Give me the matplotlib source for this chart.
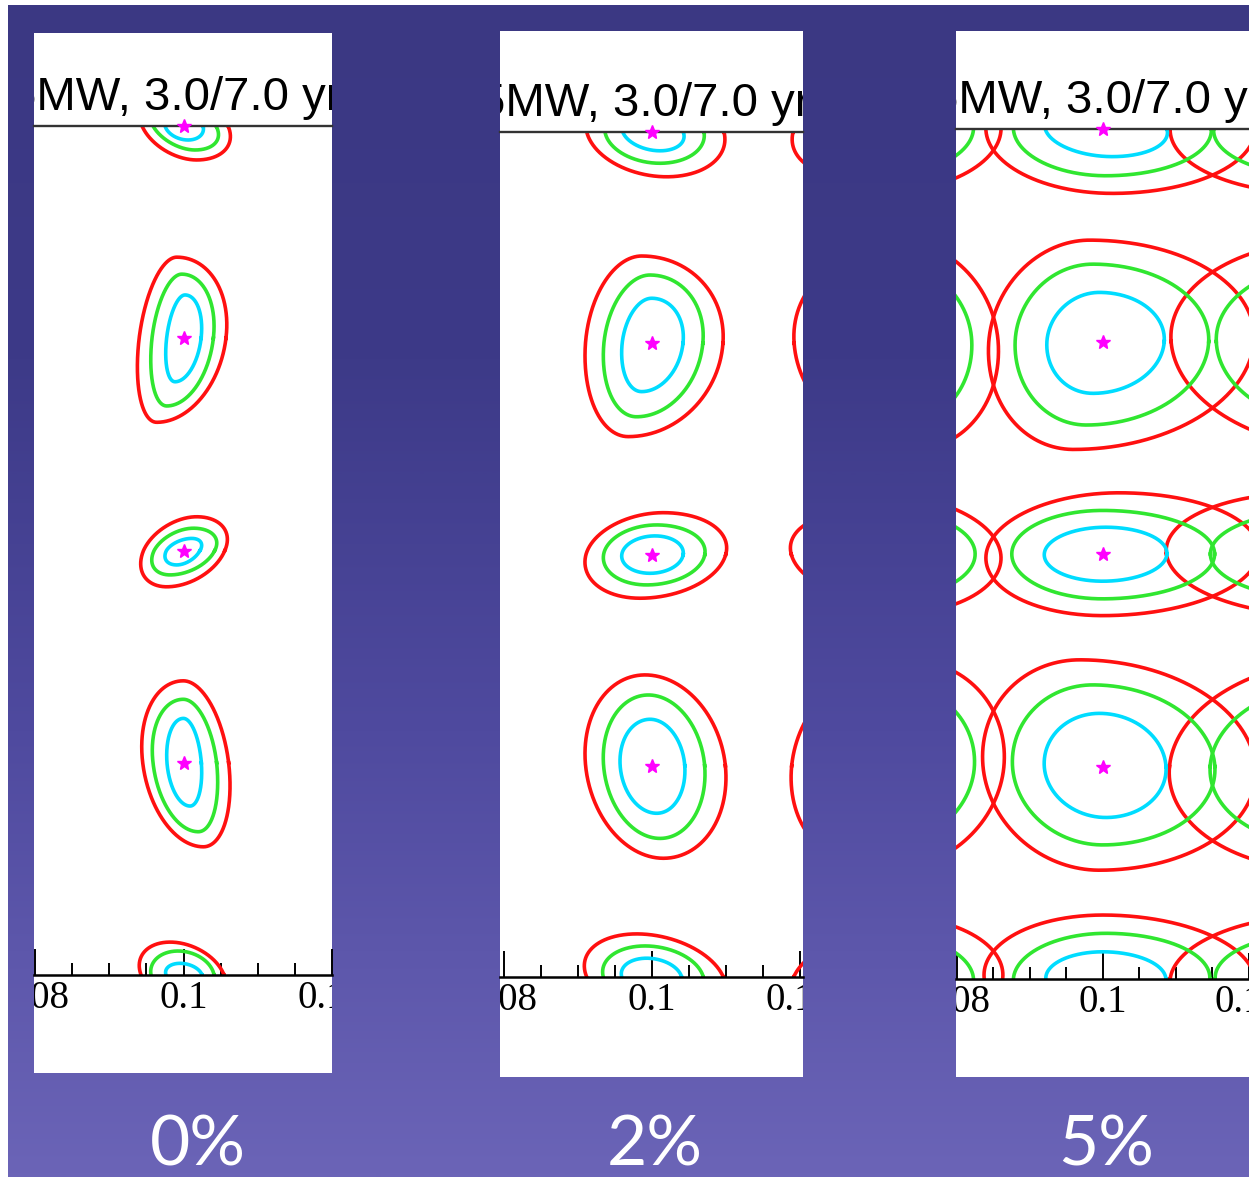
import numpy as np
import matplotlib
matplotlib.use('Agg')
import matplotlib.pyplot as plt
from matplotlib.colors import LinearSegmentedColormap
from matplotlib.transforms import offset_copy

# ---------------- data ----------------
PANEL_LABELS = ['0%', '2%', '5%']
TITLE = '5MW, 3.0/7.0 yr'
STAR_X = 0.1
CONTOUR_ROWS = [0, 1, 2, 3, 4]
STAR_ROWS = [0, 1, 2, 3]
MAJOR_TICKS = [0.08, 0.10, 0.12]
MAJOR_LABELS = ['0.08', '0.1', '0.12']
MINOR_TICKS = [0.085, 0.09, 0.095, 0.105, 0.11, 0.115]
# mirrored neighbouring solutions (x offsets from the star)
NEIGHBOR_OFFSETS = [[-0.030, 0.030], [-0.031, 0.0288], [-0.030, 0.030]]

# contour shape per row: [dx, shear, half-width left, half-width right,
#                         half-height top, half-height bottom]
# x values in units of 1e-3, y values in row units
P1_RED = [[-0.24, 2.02, 5.35, 6.24, 0.170, 0.160],
          [-2.26, -1.35, 3.72, 7.98, 0.382, 0.396],
          [-0.24, -2.02, 5.15, 5.81, 0.159, 0.171],
          [1.32, 1.35, 6.82, 4.76, 0.386, 0.396],
          [-0.13, 1.68, 5.59, 5.59, 0.155, 0.170]]
P1_GREEN = [[-0.24, 1.79, 3.87, 4.62, 0.118, 0.113],
            [-1.25, -1.01, 3.00, 5.27, 0.302, 0.319],
            [-0.24, -1.58, 3.72, 4.45, 0.105, 0.115],
            [0.98, 1.01, 5.09, 3.48, 0.299, 0.325],
            [-0.13, 0.61, 4.25, 4.25, 0.113, 0.118]]
P1_CYAN = [[0.07, 0.54, 2.56, 2.56, 0.070, 0.066],
           [-0.47, -0.67, 1.81, 2.84, 0.204, 0.205],
           [0.09, -1.01, 2.39, 2.13, 0.057, 0.068],
           [0.43, 0.45, 2.66, 1.97, 0.209, 0.204],
           [0.07, 0.54, 2.43, 2.43, 0.055, 0.066]]

P2_RED = [[0.45, 1.54, 9.27, 9.28, 0.207, 0.212],
          [-2.30, -0.91, 6.69, 11.89, 0.413, 0.442],
          [-0.04, -1.58, 8.88, 10.01, 0.198, 0.207],
          [0.30, 1.24, 9.27, 9.62, 0.430, 0.438],
          [0.41, 2.47, 9.23, 9.23, 0.204, 0.208]]
P2_GREEN = [[0.34, 0.74, 6.69, 6.69, 0.144, 0.148],
            [-1.18, -0.91, 5.32, 8.05, 0.323, 0.348],
            [-0.04, -0.68, 6.50, 7.18, 0.140, 0.144],
            [0.30, 0.79, 6.84, 6.82, 0.335, 0.344],
            [0.18, 1.12, 6.76, 6.76, 0.147, 0.147]]
P2_CYAN = [[0.14, 0.95, 4.09, 4.09, 0.089, 0.089],
           [-0.72, -0.68, 3.31, 4.91, 0.213, 0.229],
           [0.07, -0.34, 4.15, 4.15, 0.088, 0.089],
           [0.19, 0.45, 4.49, 4.24, 0.220, 0.225],
           [-0.04, 0.68, 4.05, 4.05, 0.089, 0.089]]

P3_RED = [[1.07, 0.23, 17.11, 19.73, 0.287, 0.303],
          [-2.93, -1.11, 12.71, 23.60, 0.477, 0.508],
          [1.07, -1.11, 17.07, 20.24, 0.288, 0.290],
          [-1.83, 1.33, 14.60, 22.72, 0.502, 0.488],
          [1.07, 1.07, 17.33, 19.73, 0.301, 0.292]]
P3_GREEN = [[0.00, 0.40, 12.27, 14.84, 0.207, 0.220],
            [-1.83, -0.45, 10.20, 16.31, 0.364, 0.393],
            [-0.04, 0.00, 12.45, 15.33, 0.205, 0.211],
            [-0.71, 0.67, 11.68, 16.03, 0.384, 0.369],
            [0.00, -0.40, 12.27, 14.63, 0.215, 0.207]]
P3_CYAN = [[0.17, 1.12, 8.08, 8.59, 0.127, 0.130],
           [-0.93, -0.44, 6.75, 9.32, 0.231, 0.244],
           [0.17, -0.22, 8.21, 8.59, 0.126, 0.128],
           [-0.04, 0.45, 8.00, 8.67, 0.250, 0.240],
           [0.17, 0.21, 8.00, 8.45, 0.128, 0.127]]

PANELS = [(P1_RED, P1_GREEN, P1_CYAN),
          (P2_RED, P2_GREEN, P2_CYAN),
          (P3_RED, P3_GREEN, P3_CYAN)]

# ---------------- layout / style ----------------
W, H, DPI = 1249, 1177, 100
PANEL_PX = [(34, 33, 332, 1073), (500, 31, 803, 1077), (956, 31, 1249, 1077)]
INNER_Y_PX = [(126, 975), (132, 977), (129, 979)]
XLIMS = [(0.07985, 0.12001), (0.07946, 0.12041), (0.07987, 0.11893)]
LABEL_X_PX = [198, 655, 1106]
LEVEL_COLORS = ['#ff1010', '#30e630', '#00dcff']
LW = 2.6


def fig_rect(x0, y0, x1, y1):
    return [x0 / W, 1 - y1 / H, (x1 - x0) / W, (y1 - y0) / H]


def contour_xy(x0, row, p, mirror=False):
    dx, s, aL, aR, bT, bB = p
    t = np.linspace(0, 2 * np.pi, 721)
    c, sn = np.cos(t), np.sin(t)
    a = np.where(c >= 0, aR, aL)
    b = np.where(sn >= 0, bB, bT)
    u = (dx + s * sn + a * c) * 1e-3
    x = x0 - u if mirror else x0 + u
    y = row + b * sn
    return x, y


fig = plt.figure(figsize=(W / DPI, H / DPI), dpi=DPI, facecolor='white')

# purple gradient background
bg = fig.add_axes(fig_rect(8, 5, W, H))
bg.set_axis_off()
grad = np.linspace(0, 1, 400).reshape(-1, 1)
cmap = LinearSegmentedColormap.from_list(
    'bgp', [(0.0, '#3b3883'), (0.30, '#3d3a88'), (0.62, '#4f4a9f'), (1.0, '#6b64b7')])
bg.imshow(grad, aspect='auto', cmap=cmap, extent=[0, 1, 1, 0])
bg.set_xlim(0, 1)
bg.set_ylim(1, 0)

for i, (levels, (px0, py0, px1, py1)) in enumerate(zip(PANELS, PANEL_PX)):
    panel = fig.add_axes(fig_rect(px0, py0, px1, py1))
    panel.set_facecolor('white')
    panel.set_xticks([])
    panel.set_yticks([])
    for sp in panel.spines.values():
        sp.set_visible(False)

    iy0, iy1 = INNER_Y_PX[i]
    ax = fig.add_axes(fig_rect(px0, iy0, px1, iy1))
    ax.patch.set_alpha(0)
    ax.set_xlim(*XLIMS[i])
    ax.set_ylim(4, 0)
    for side in ('left', 'right'):
        ax.spines[side].set_visible(False)
    ax.spines['top'].set_linewidth(1.7)
    ax.spines['top'].set_color('#333333')
    ax.spines['bottom'].set_linewidth(1.8)
    ax.set_yticks([])
    ax.set_xticks(MAJOR_TICKS)
    ax.set_xticks(MINOR_TICKS, minor=True)
    ax.tick_params(axis='x', which='both', direction='in', bottom=True, top=False,
                   labelbottom=False, width=1.4, color='black')
    ax.tick_params(axis='x', which='major', length=18.5)
    ax.tick_params(axis='x', which='minor', length=8.5)

    # contours: main solution plus mirrored neighbours
    for lev, color in zip(levels, LEVEL_COLORS):
        for row, p in zip(CONTOUR_ROWS, lev):
            x, y = contour_xy(STAR_X, row, p)
            ax.plot(x, y, color=color, lw=LW, solid_joinstyle='round')
            for off in NEIGHBOR_OFFSETS[i]:
                x, y = contour_xy(STAR_X + off, row, p, mirror=True)
                ax.plot(x, y, color=color, lw=LW, solid_joinstyle='round')
    ax.plot([STAR_X] * len(STAR_ROWS), STAR_ROWS, ls='none', marker='*',
            color='#ff00ff', ms=10, zorder=5, clip_on=False)

    # tick labels (clipped to the white panel)
    lab_tr = offset_copy(ax.get_xaxis_transform(), fig=fig, y=-5, units='dots')
    for xv, lab in zip(MAJOR_TICKS, MAJOR_LABELS):
        panel.text(xv, 0, lab, transform=lab_tr, ha='center', va='top',
                   fontsize=28, family='Liberation Serif', color='black',
                   clip_on=True)

    # title (cropped by the panel)
    tt_tr = offset_copy(ax.transData, fig=fig, y=16, units='dots')
    panel.text(STAR_X - 0.0234, 0, TITLE, transform=tt_tr, ha='left',
               va='baseline', fontsize=34, family='Liberation Sans',
               color='black', clip_on=True)

    fig.text(LABEL_X_PX[i] / W, 1 - 1166 / H, PANEL_LABELS[i], ha='center',
             va='baseline', color='white', fontsize=50, family='Lato')

fig.savefig('out.png', dpi=DPI, facecolor=fig.get_facecolor())
